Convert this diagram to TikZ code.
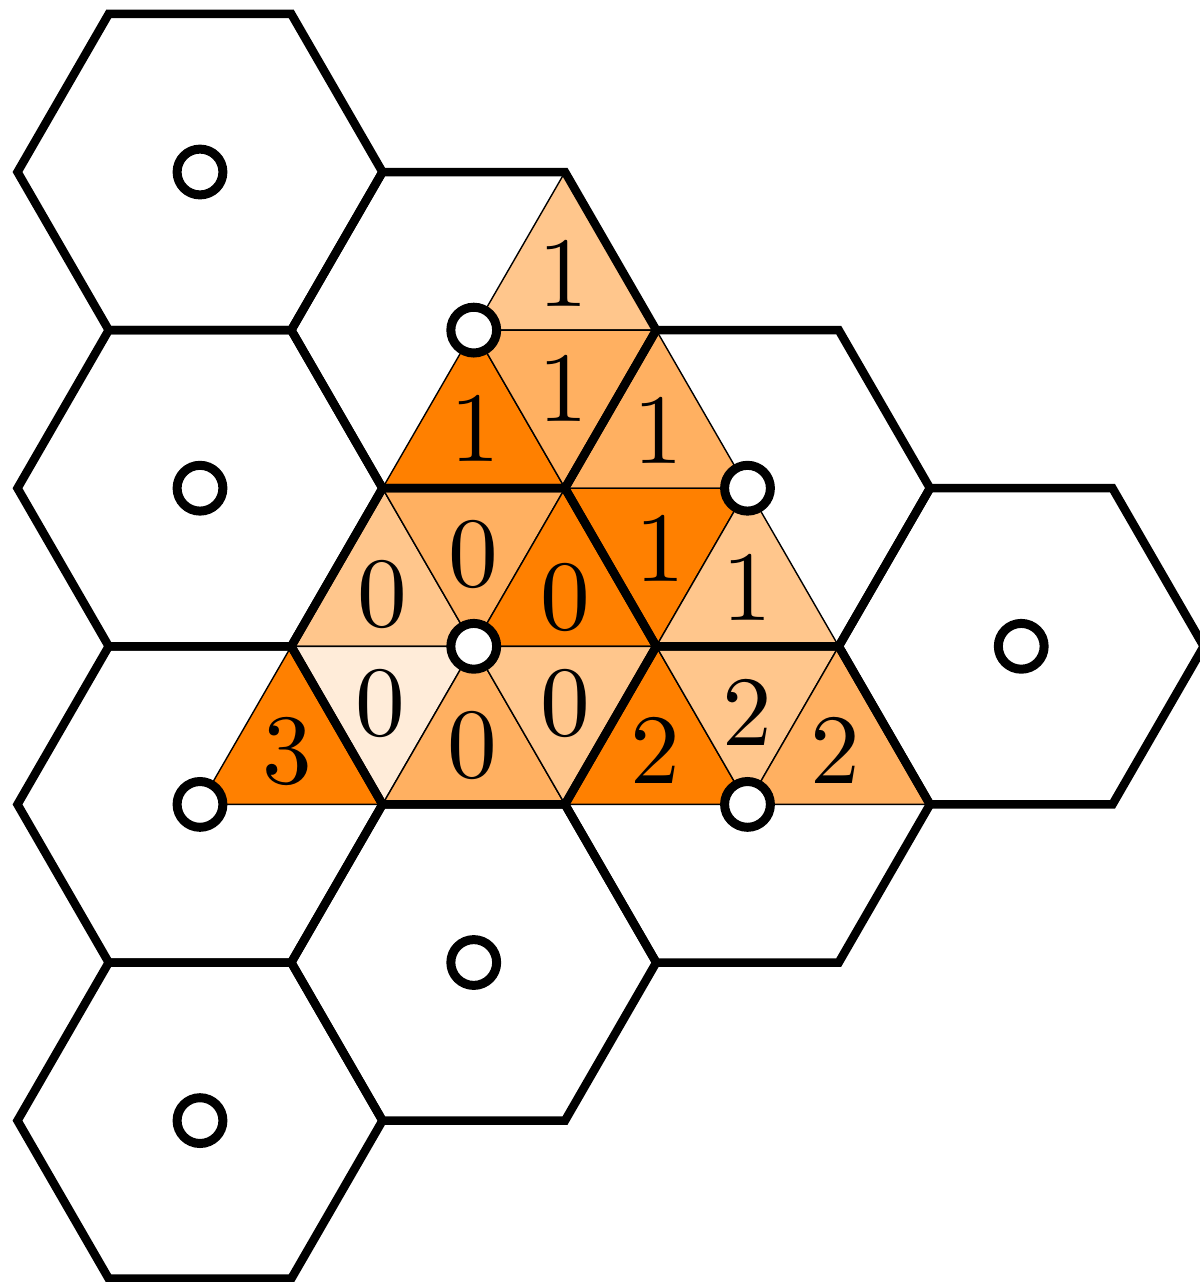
\documentclass[tikz,border=0pt]{standalone}
\begin{document}
\begin{tikzpicture}[x=0.5pt,y=-0.5pt,
  hexline/.style={line width=4.25pt, line join=miter},
  tri/.style={draw=black, line width=0.7pt, line join=round},
  dark/.style={fill=orange},
  med/.style={fill=orange!62},
  light/.style={fill=orange!45},
  vlight/.style={fill=orange!15},
  ctr/.style={circle, draw=black, fill=white, line width=4.5pt, minimum size=22.9pt, inner sep=0pt},
  lab/.style={font=\fontsize{10}{12}\selectfont, scale=4.97, inner sep=0pt}
]
\useasboundingbox (0,0) rectangle (1200,1282);
% lattice points of the big triangle
\foreach \n in {0,...,4}{
  \foreach \m in {0,...,\n}{
    \coordinate (p\n\m) at ({565-91.25*\n+182.5*\m},{172+158.1*\n});
  }
}
% small triangles
\filldraw[tri,light] (p00) -- (p10) -- (p11) -- cycle;
\filldraw[tri,dark]  (p10) -- (p20) -- (p21) -- cycle;
\filldraw[tri,med]   (p10) -- (p11) -- (p21) -- cycle;
\filldraw[tri,med]   (p11) -- (p21) -- (p22) -- cycle;
\filldraw[tri,light] (p20) -- (p30) -- (p31) -- cycle;
\filldraw[tri,med]   (p20) -- (p21) -- (p31) -- cycle;
\filldraw[tri,dark]  (p21) -- (p31) -- (p32) -- cycle;
\filldraw[tri,dark]  (p21) -- (p22) -- (p32) -- cycle;
\filldraw[tri,light] (p22) -- (p32) -- (p33) -- cycle;
\filldraw[tri,dark]  (p30) -- (p40) -- (p41) -- cycle;
\filldraw[tri,vlight](p30) -- (p31) -- (p41) -- cycle;
\filldraw[tri,med]   (p31) -- (p41) -- (p42) -- cycle;
\filldraw[tri,light] (p31) -- (p32) -- (p42) -- cycle;
\filldraw[tri,dark]  (p32) -- (p42) -- (p43) -- cycle;
\filldraw[tri,light] (p32) -- (p33) -- (p43) -- cycle;
\filldraw[tri,med]   (p33) -- (p43) -- (p44) -- cycle;
% labels
\node[lab] (l1)  at (563,273) {1};
\node[lab] (l2)  at (475,428) {1};
\node[lab] (l3)  at (563,388) {1};
\node[lab] (l4)  at (658,430) {1};
\node[lab] (l5)  at (382,594) {0};
\node[lab] (l6)  at (473,554) {0};
\node[lab] (l7)  at (565,597) {0};
\node[lab] (l8)  at (660,548) {1};
\node[lab] (l9)  at (747,587) {1};
\node[lab] (l10) at (287,751) {3};
\node[lab] (l11) at (380,703) {0};
\node[lab] (l12) at (472,745) {0};
\node[lab] (l13) at (565,703) {0};
\node[lab] (l14) at (655,750) {2};
\node[lab] (l15) at (747,712) {2};
\node[lab] (l16) at (835,750) {2};
% hexagons
\foreach \i/\k in {0/0,0/1,0/2,0/3,1/0,1/1,1/2,2/0,2/1,3/0}{
  \coordinate (h\i\k) at ({200+273.75*\i},{172+158.1*\i+316.2*\k});
  \draw[hexline] (h\i\k) ++(182.5,0) -- ++(-91.25,158.1) -- ++(-182.5,0)
    -- ++(-91.25,-158.1) -- ++(91.25,-158.1) -- ++(182.5,0) -- cycle;
}
% centre markers
\foreach \i/\k in {0/0,0/1,0/2,0/3,1/0,1/1,1/2,2/0,2/1,3/0}{
  \node[ctr] (c\i\k) at (h\i\k) {};
}
\end{tikzpicture}
\end{document}
